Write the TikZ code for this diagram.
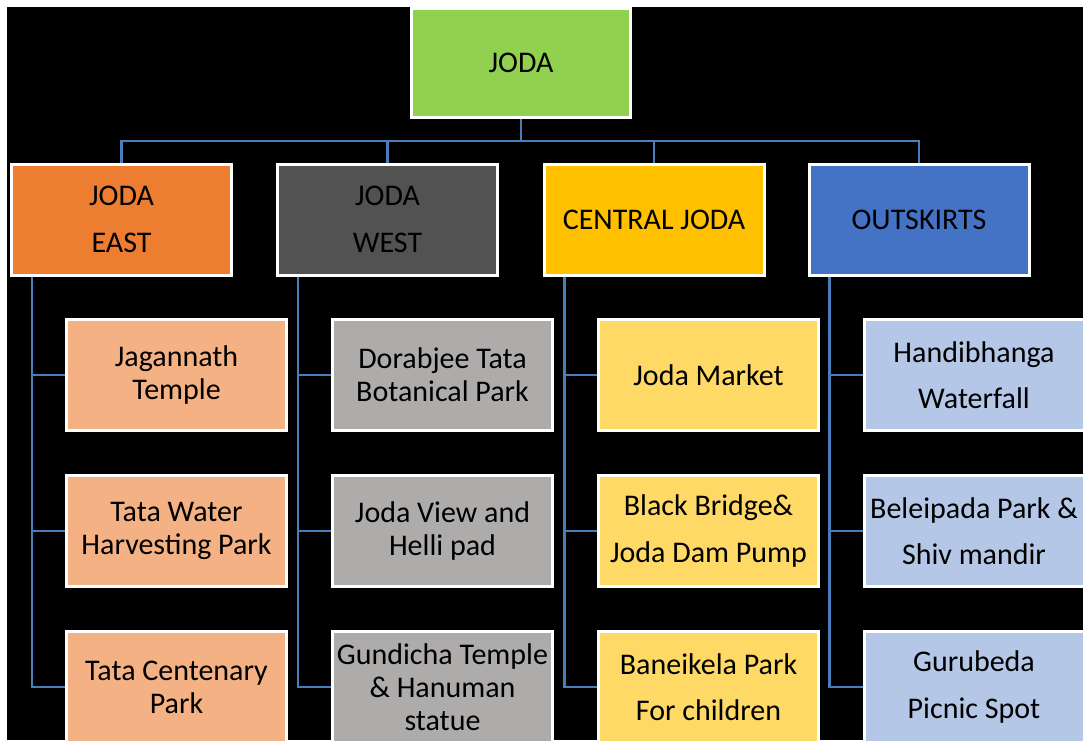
\documentclass[tikz,border=0pt]{standalone}
\usepackage{fontspec}
\setmainfont{Carlito}
\definecolor{cgreen}{HTML}{92D050}
\definecolor{corange}{HTML}{ED7D31}
\definecolor{cdgray}{HTML}{525252}
\definecolor{cgold}{HTML}{FFC000}
\definecolor{cblue}{HTML}{4472C4}
\definecolor{lorange}{HTML}{F4B183}
\definecolor{lgray}{HTML}{AEABAB}
\definecolor{lyellow}{HTML}{FFD966}
\definecolor{lblue}{HTML}{B4C7E7}
\definecolor{conncol}{RGB}{74,126,187}
\tikzset{
  box/.style={draw=white, line width=3pt, minimum width=220pt, minimum height=111pt,
    inner sep=0pt, align=center, text=black, font=\fontsize{30}{33}\selectfont},
  wide/.style={font=\fontsize{30}{46.5}\selectfont},
  conn/.style={draw=conncol, line width=2.5pt},
}
\begin{document}
\begin{tikzpicture}[x=1pt,y=-1pt]
\useasboundingbox (0,0) rectangle (1083,740);
\fill[white] (0,0) rectangle (1083,740);
\fill[black] (7,7) rectangle (1083,740);
\begin{scope}
\clip (0,0) rectangle (1083,740);
% root
\node[box, fill=cgreen, minimum width=219pt, minimum height=109pt] (joda) at (521,63) {JODA};
% level 1
\node[box, wide, fill=corange] (east) at (121.5,219.5) {JODA\\EAST};
\node[box, wide, fill=cdgray] (west) at (387.5,219.5) {JODA\\WEST};
\node[box, fill=cgold] (central) at (654,219.5) {CENTRAL JODA};
\node[box, fill=cblue] (out) at (919,219.5) {OUTSKIRTS};
% level 2 east
\node[box, fill=lorange] (e1) at (176.5,375) {Jagannath\\Temple};
\node[box, fill=lorange] (e2) at (176.5,531) {Tata Water\\Harvesting Park};
\node[box, fill=lorange] (e3) at (176.5,687) {Tata Centenary\\Park};
% level 2 west
\node[box, fill=lgray] (w1) at (442.5,375) {Dorabjee Tata\\Botanical Park};
\node[box, fill=lgray] (w2) at (442.5,531) {Joda View and\\Helli pad};
\node[box, fill=lgray] (w3) at (442.5,687) {Gundicha Temple\\\& Hanuman\\statue};
% level 2 central
\node[box, fill=lyellow] (c1) at (708.5,375) {Joda Market};
\node[box, wide, fill=lyellow] (c2) at (708.5,531) {Black Bridge\&\\Joda Dam Pump};
\node[box, wide, fill=lyellow] (c3) at (708.5,687) {Baneikela Park\\For children};
% level 2 outskirts
\node[box, wide, fill=lblue] (o1) at (974,375) {Handibhanga\\Waterfall};
\node[box, wide, fill=lblue] (o2) at (974,531) {Beleipada Park \&\\Shiv mandir};
\node[box, wide, fill=lblue] (o3) at (974,687) {Gurubeda\\Picnic Spot};
% connectors root
\foreach \n in {east,west,central,out}
  \draw[conn] (joda.south) -- ++(0,22) -| (\n.north);
% connectors children
\foreach \p/\c in {east/e, west/w, central/c, out/o}{
  \foreach \i in {1,2,3}
    \draw[conn] ([xshift=22pt]\p.south west) |- (\c\i.west);
}
\end{scope}
\end{tikzpicture}
\end{document}
